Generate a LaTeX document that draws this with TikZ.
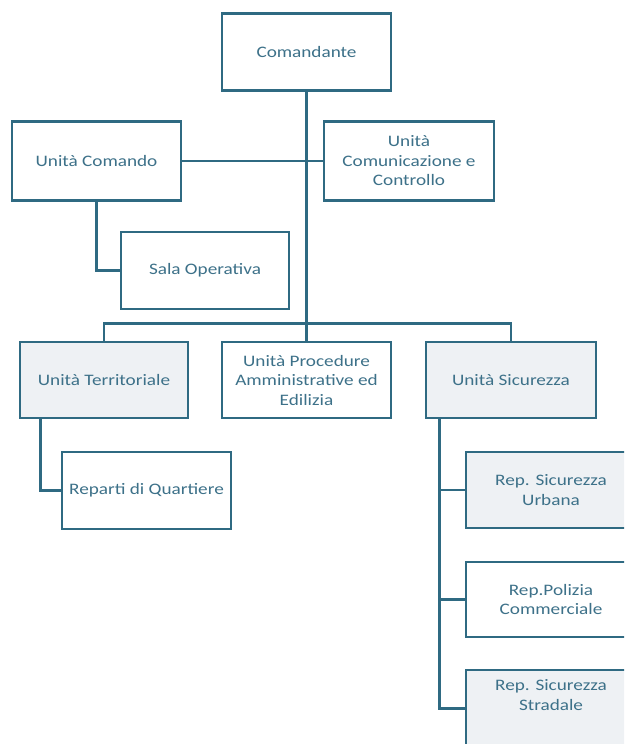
\documentclass[tikz,border=0pt]{standalone}
\usepackage{fontspec}
\setmainfont{Carlito}[FakeStretch=1.2]
\definecolor{orgline}{HTML}{2F6A82}
\definecolor{orgtext}{HTML}{3D7189}
\definecolor{orgfill}{HTML}{EEF1F4}

\begin{document}
\begin{tikzpicture}[x=1pt,y=-1pt]
    \tikzstyle{unit}=[draw=orgline, line width=2.7pt, fill=white, text=orgtext,
        minimum width=169pt, minimum height=77pt, align=center, inner sep=2pt,
        font=\fontsize{16}{19.5}\selectfont]
    \tikzstyle{shaded}=[unit, fill=orgfill]
    \tikzstyle{link}=[draw=orgline, line width=2.7pt]
    \useasboundingbox (0,0) rectangle (624,744);
    \clip (0,0) rectangle (624,744);

    % top of the chart
    \node[unit] (cmd) at (306.5,52) {Comandante};
    \node[unit, minimum height=79pt] (ucom) at (96.5,161) {Unità Comando};
    \node[unit, minimum width=170pt, minimum height=79pt] (ucc) at (409,161) {Unità\\Comunicazione e\\Controllo};
    \node[unit, minimum width=168pt] (sala) at (205,270.5) {Sala Operativa};

    % second level
    \node[shaded, minimum width=168pt, minimum height=76pt] (uter) at (104,380) {Unità Territoriale};
    \node[unit, minimum height=76pt] (uproc) at (306.5,380) {Unità Procedure\\Amministrative ed\\Edilizia};
    \node[shaded, minimum width=170pt, minimum height=76pt] (usic) at (511,380) {Unità Sicurezza};
    \node[unit] (rep) at (146.5,490.5) {Reparti di Quartiere};

    % reparti of the Unità Sicurezza
    \node[shaded, minimum width=170pt, minimum height=76pt] (urb) at (551,490) {Rep. Sicurezza\\Urbana};
    \node[unit, minimum width=170pt, minimum height=75pt] (pol) at (551,599.5) {Rep.Polizia\\Commerciale};
    \node[shaded, minimum width=170pt] (strad) at (551,708.5) {};
    \node[text=orgtext, align=center, font=\fontsize{16}{19.5}\selectfont] (stradtxt) at (551,695) {Rep. Sicurezza\\Stradale};

    % connectors
    \draw[link] (cmd.south) -- (uproc.north);
    \draw[link] (ucom.east) -- (ucc.west);
    \draw[link] (ucom.south) |- (sala.west);
    \draw[link] (uter.north) -- ++(0,-17) -| (usic.north);
    \coordinate (terdown) at ([xshift=22pt]uter.south west);
    \draw[link] (terdown) |- (rep.west);
    \coordinate (sicdown) at ([xshift=15pt]usic.south west);
    \draw[link] (sicdown) |- (urb.west);
    \draw[link] (sicdown) |- (pol.west);
    \draw[link] (sicdown) |- (strad.west);
\end{tikzpicture}
\end{document}
